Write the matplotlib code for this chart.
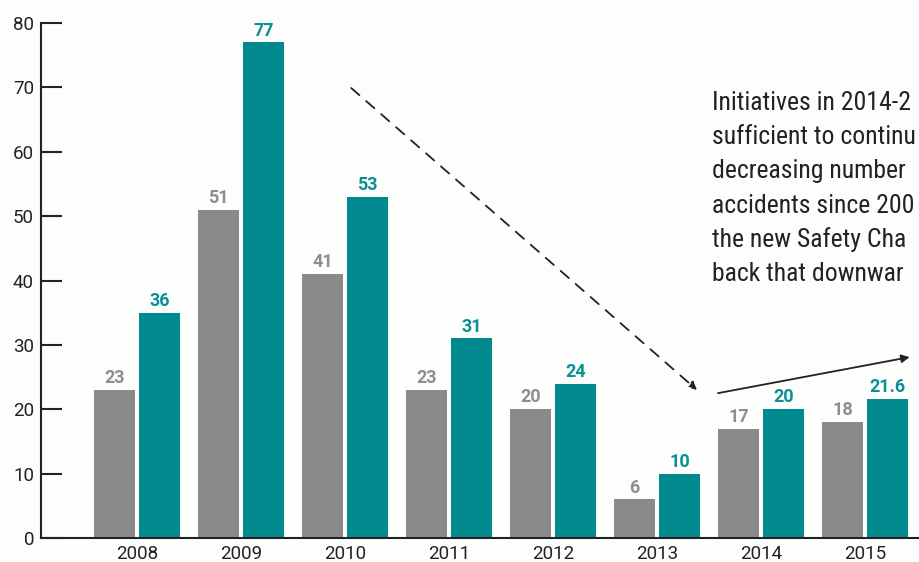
import matplotlib
matplotlib.use("Agg")
import matplotlib.pyplot as plt
import numpy as np
from matplotlib import font_manager

years = ["2008", "2009", "2010", "2011", "2012", "2013", "2014", "2015"]
gray_values = [23, 51, 41, 23, 20, 6, 17, 18]
teal_values = [35, 77, 53, 31, 24, 10, 20, 21.6]
gray_labels = ["23", "51", "41", "23", "20", "6", "17", "18"]
teal_labels = ["36", "77", "53", "31", "24", "10", "20", "21.6"]
yticks = [0, 10, 20, 30, 40, 50, 60, 70, 80]
note_lines = [
    "Initiatives in 2014-2",
    "sufficient to continu",
    "decreasing number",
    "accidents since 200",
    "the new Safety Cha",
    "back that downwar",
]

avail = {f.name for f in font_manager.fontManager.ttflist}
narrow = next((f for f in ["Roboto Condensed", "Liberation Sans Narrow", "DejaVu Sans Condensed", "Roboto"] if f in avail), "DejaVu Sans")
plt.rcParams['font.family'] = ['Roboto', 'DejaVu Sans']

GRAY = "#8a8a8a"
TEAL = "#008a8f"
GRAY_TXT = "#8e8e8e"
TEAL_TXT = "#0a8f95"
BG = "#fdfdfc"

fig = plt.figure(figsize=(9.19, 5.62), dpi=100, facecolor=BG)
W, H = 919, 562
ax = fig.add_axes([41 / W, (562 - 538) / H, (919 - 41) / W, (538 - 23) / H])
ax.set_facecolor(BG)

x = np.arange(len(years))
bw = 0.395
off = 0.216
ax.bar(x - off, gray_values, width=bw, color=GRAY, zorder=2)
ax.bar(x + off, teal_values, width=bw, color=TEAL, zorder=2)

for xi, v, t in zip(x, gray_values, gray_labels):
    ax.annotate(t, (xi - off, v), xytext=(0, 2), textcoords="offset points",
                ha="center", va="bottom", color=GRAY_TXT, fontsize=13, fontweight="bold")
for xi, v, t in zip(x, teal_values, teal_labels):
    ax.annotate(t, (xi + off, v), xytext=(0, 2), textcoords="offset points",
                ha="center", va="bottom", color=TEAL_TXT, fontsize=13, fontweight="bold")

ax.set_xlim(-0.923, 7.52)
ax.set_ylim(0, 80)
ax.set_yticks(yticks)
ax.set_xticks(x)
ax.set_xticklabels(years)
ax.tick_params(axis="y", direction="in", length=15, width=1.5, color="#222222",
               labelsize=13.5, labelcolor="#222222", pad=5)
ax.tick_params(axis="x", length=0, labelsize=13.5, labelcolor="#222222", pad=5)
for s in ["top", "right"]:
    ax.spines[s].set_visible(False)
ax.spines["left"].set_linewidth(1.5)
ax.spines["bottom"].set_linewidth(1.5)
ax.spines["left"].set_color("#222222")
ax.spines["bottom"].set_color("#222222")

# dashed arrow
ax.annotate("", xy=(5.385, 23.0), xytext=(2.06, 69.9),
            arrowprops=dict(arrowstyle="-|>", linestyle=(0, (6, 5)), color="#222222",
                            lw=1.3, mutation_scale=12, shrinkA=0, shrinkB=0), annotation_clip=False)
# solid arrow
ax.annotate("", xy=(7.43, 28.1), xytext=(5.587, 22.5),
            arrowprops=dict(arrowstyle="-|>", color="#222222",
                            lw=1.3, mutation_scale=12, shrinkA=0, shrinkB=0), annotation_clip=False)

y0 = 103
for i, line in enumerate(note_lines):
    fig.text(712 / W, 1 - (y0 + i * 34.2) / H, line, ha="left", va="center",
             fontsize=18.5, family=[narrow, 'DejaVu Sans'], color="#222222")

fig.savefig("out.png", dpi=100, facecolor=BG)
